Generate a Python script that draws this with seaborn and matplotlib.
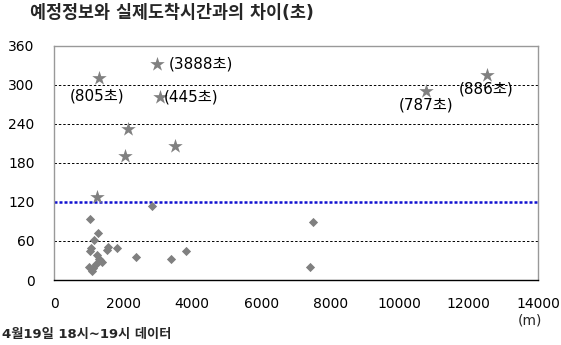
import matplotlib
matplotlib.use("Agg")
import matplotlib.pyplot as plt
import seaborn as sns
import pandas as pd

# Data
star_x = [1300, 2970, 3080, 2130, 2040, 3500, 1250, 10750, 12530]
star_y = [310, 333, 281, 233, 190, 206, 127, 291, 316]
dia_x = [1055, 1258, 1151, 1084, 1040, 1565, 1519, 1809, 2359, 2841, 3383, 3817,
         1296, 1374, 1006, 1130, 1200, 1340, 1230, 1100, 7490, 7400]
dia_y = [94, 72, 62, 49, 45, 51, 46, 50, 36, 114, 32, 44,
         33, 28, 20, 18, 24, 31, 38, 14, 89, 20]
labels = ["(805초)", "(3888초)", "(445초)", "(787초)", "(886초)"]
label_x = [450, 3330, 3170, 10750, 12500]
label_y = [283, 333, 281, 269, 294]
label_ha = ["left", "left", "left", "center", "center"]
ref_value = 120
xticks = [0, 2000, 4000, 6000, 8000, 10000, 12000, 14000]
yticks = [0, 60, 120, 180, 240, 300, 360]
title = "예정정보와 실제도착시간과의 차이(초)"
footer = "4월19일 18시~19시 데이터"
unit = "(m)"

sns.set_style("white")
plt.rcParams['font.family'] = ['DejaVu Sans', 'Noto Sans CJK KR']

fig = plt.figure(figsize=(5.61, 3.45), dpi=100)
ax = fig.add_axes([0.0963, 0.1884, 0.8627, 0.6783])

df_s = pd.DataFrame({"x": star_x, "y": star_y})
df_d = pd.DataFrame({"x": dia_x, "y": dia_y})

for v in [60, 180, 240, 300]:
    ax.axhline(v, color="black", lw=0.7, ls=(0, (2.5, 2)), zorder=1)
ax.axhline(ref_value, color="#1010d0", lw=1.8, ls=(0, (1.2, 0.8)), zorder=1)

sns.scatterplot(data=df_d, x="x", y="y", marker="D", s=22, color="#808080",
                edgecolor="#808080", linewidth=0, ax=ax, zorder=3)
sns.scatterplot(data=df_s, x="x", y="y", marker="*", s=120, color="#808080",
                edgecolor="#808080", linewidth=0, ax=ax, zorder=3)

for t, x, y, ha in zip(labels, label_x, label_y, label_ha):
    ax.text(x, y, t, ha=ha, va="center", fontsize=11, color="black", zorder=4)

ax.set_xlim(0, 14000)
ax.set_ylim(0, 360)
ax.set_xticks(xticks)
ax.set_yticks(yticks)
ax.set_xticklabels([str(v) for v in xticks], fontsize=10)
ax.set_yticklabels([str(v) for v in yticks], fontsize=10)
ax.set_xlabel("")
ax.set_ylabel("")
ax.tick_params(axis="both", direction="in", length=4, width=0.8, colors="black", pad=12)
ax.tick_params(axis="y", pad=14)

for s in ["top", "right", "left"]:
    ax.spines[s].set_color("#999999")
    ax.spines[s].set_linewidth(1.0)
ax.spines["bottom"].set_color("black")
ax.spines["bottom"].set_linewidth(1.0)

fig.text(0.053, 0.962, title, fontsize=12.5, fontweight="bold", ha="left", va="center")
fig.text(0.004, 0.03, footer, fontsize=9.5, fontweight="bold", ha="left", va="center")
fig.text(0.945, 0.07, unit, fontsize=10, ha="center", va="center")

fig.savefig("out.png", dpi=100)
